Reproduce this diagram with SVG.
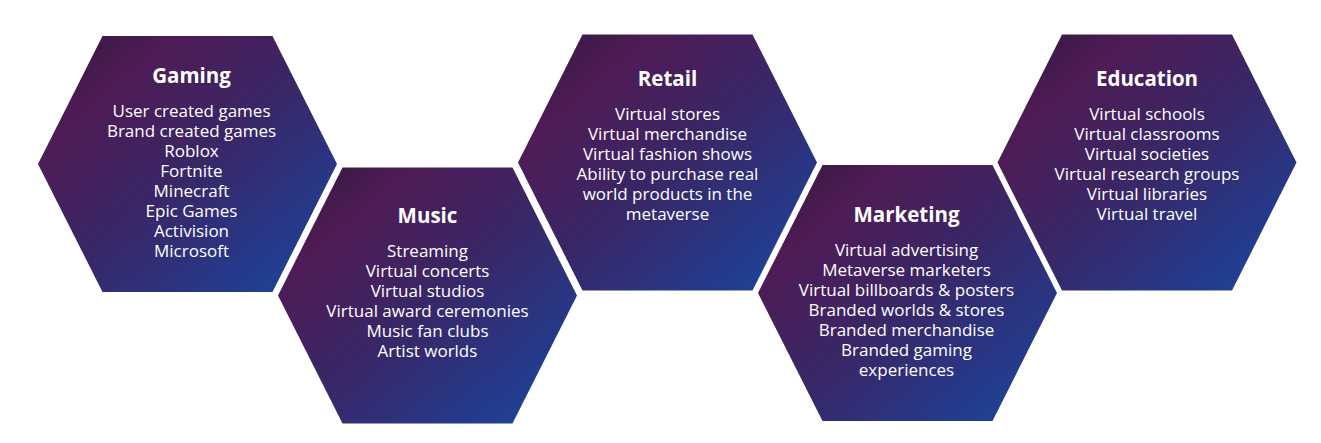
<svg xmlns="http://www.w3.org/2000/svg" width="1321" height="443" viewBox="0 0 1321 443">
<defs>
<linearGradient id="hg" x1="0" y1="0" x2="1" y2="1">
<stop offset="0" stop-color="#2a1a3a"/>
<stop offset="0.22" stop-color="#4f1b55"/>
<stop offset="0.5" stop-color="#3a2665"/>
<stop offset="0.8" stop-color="#25398a"/>
<stop offset="1" stop-color="#1a4a9c"/>
</linearGradient>
<polygon id="hex" points="-85,-128 85,-128 149.5,0 85,128 -85,128 -149.5,0"/>
</defs>
<style>
.h{fill:url(#hg)}
.t{font-family:"Open Sans",Lato,sans-serif;font-weight:bold;font-size:20.5px;fill:#ffffff;text-anchor:middle}
.b{font-family:"Open Sans",Lato,sans-serif;font-size:17px;fill:#ffffff;text-anchor:middle}
</style>
<rect width="1321" height="443" fill="#ffffff"/>
<g id="gaming" transform="translate(187.5,164)">
<use href="#hex" class="h"/>
<text class="t" x="4" y="-81">Gaming</text>
<text class="b" x="4" y="-47">User created games</text>
<text class="b" x="4" y="-27">Brand created games</text>
<text class="b" x="4" y="-7">Roblox</text>
<text class="b" x="4" y="13">Fortnite</text>
<text class="b" x="4" y="33">Minecraft</text>
<text class="b" x="4" y="53">Epic Games</text>
<text class="b" x="4" y="73">Activision</text>
<text class="b" x="4" y="93">Microsoft</text>
</g>
<g id="music" transform="translate(427.5,295.5)">
<use href="#hex" class="h"/>
<text class="t" x="0" y="-73">Music</text>
<text class="b" x="0" y="-39">Streaming</text>
<text class="b" x="0" y="-19">Virtual concerts</text>
<text class="b" x="0" y="1">Virtual studios</text>
<text class="b" x="0" y="21">Virtual award ceremonies</text>
<text class="b" x="0" y="41">Music fan clubs</text>
<text class="b" x="0" y="61">Artist worlds</text>
</g>
<g id="retail" transform="translate(667.5,162.5)">
<use href="#hex" class="h"/>
<text class="t" x="0" y="-77">Retail</text>
<text class="b" x="0" y="-43">Virtual stores</text>
<text class="b" x="0" y="-23">Virtual merchandise</text>
<text class="b" x="0" y="-3">Virtual fashion shows</text>
<text class="b" x="0" y="17">Ability to purchase real</text>
<text class="b" x="0" y="37">world products in the</text>
<text class="b" x="0" y="57">metaverse</text>
</g>
<g id="marketing" transform="translate(907.5,293)">
<use href="#hex" class="h"/>
<text class="t" x="-1" y="-71">Marketing</text>
<text class="b" x="-1" y="-37">Virtual advertising</text>
<text class="b" x="-1" y="-17">Metaverse marketers</text>
<text class="b" x="-1" y="3">Virtual billboards &amp; posters</text>
<text class="b" x="-1" y="23">Branded worlds &amp; stores</text>
<text class="b" x="-1" y="43">Branded merchandise</text>
<text class="b" x="-1" y="63">Branded gaming</text>
<text class="b" x="-1" y="83">experiences</text>
</g>
<g id="education" transform="translate(1147,162.5)">
<use href="#hex" class="h"/>
<text class="t" x="0" y="-77">Education</text>
<text class="b" x="0" y="-43">Virtual schools</text>
<text class="b" x="0" y="-23">Virtual classrooms</text>
<text class="b" x="0" y="-3">Virtual societies</text>
<text class="b" x="0" y="17">Virtual research groups</text>
<text class="b" x="0" y="37">Virtual libraries</text>
<text class="b" x="0" y="57">Virtual travel</text>
</g>
<g id="connectors"></g>
</svg>
